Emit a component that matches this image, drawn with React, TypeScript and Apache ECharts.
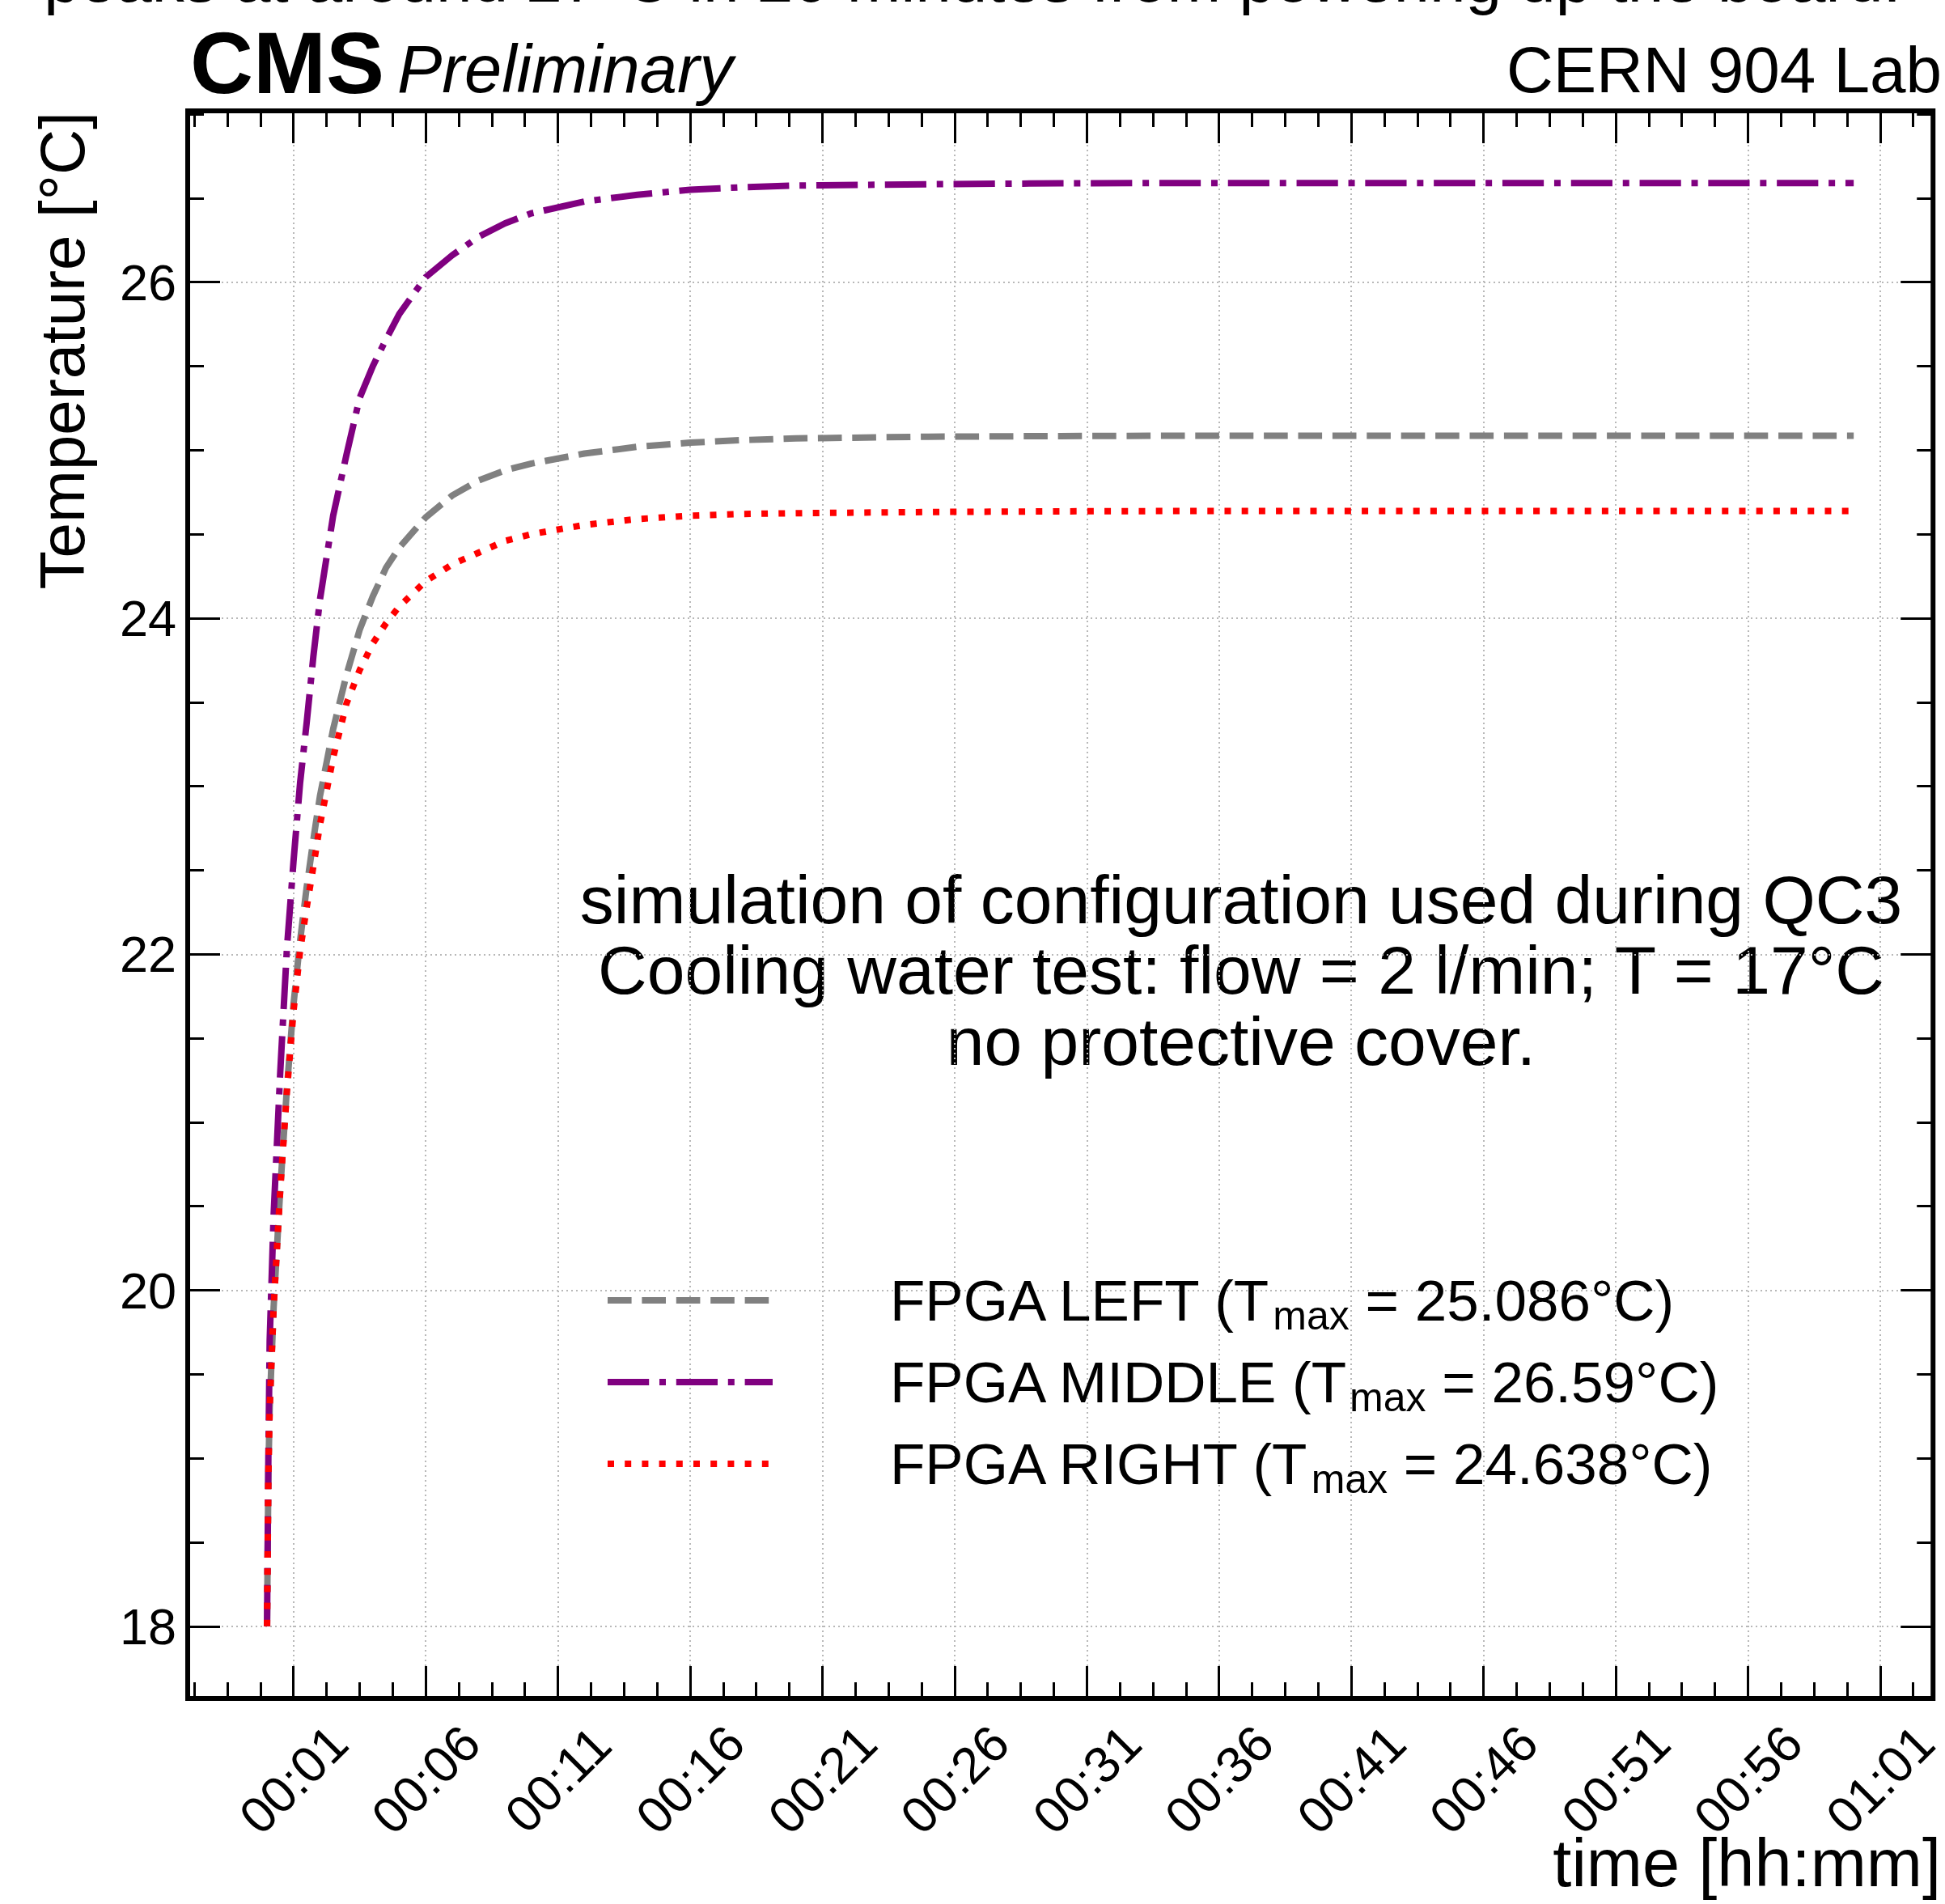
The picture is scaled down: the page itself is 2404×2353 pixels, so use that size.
import React, { useEffect, useRef } from 'react';
import * as echarts from 'echarts';

// ---------------- data ----------------
const timeMin = [0, 0.05, 0.1, 0.25, 0.5, 0.75, 1, 1.25, 1.5, 1.75, 2, 2.5, 3, 3.5, 4, 4.5, 5, 6, 7, 8, 9, 10, 12, 14, 16, 18, 20, 25, 30, 35, 40, 45, 50, 55, 60];
const fpgaLeft = [18.0, 18.9, 19.3, 19.9, 20.6, 21.2, 21.7, 22.08, 22.4, 22.68, 22.94, 23.34, 23.66, 23.93, 24.13, 24.3, 24.42, 24.6, 24.73, 24.82, 24.88, 24.92, 24.98, 25.02, 25.045, 25.06, 25.07, 25.08, 25.084, 25.086, 25.086, 25.086, 25.086, 25.086, 25.086];
const fpgaMiddle = [18.0, 19.0, 19.7, 20.45, 21.3, 22.03, 22.55, 23.02, 23.38, 23.77, 24.11, 24.61, 24.97, 25.31, 25.5, 25.66, 25.81, 26.03, 26.16, 26.27, 26.35, 26.41, 26.48, 26.52, 26.55, 26.565, 26.575, 26.583, 26.588, 26.59, 26.59, 26.59, 26.59, 26.59, 26.59];
const fpgaRight = [18.0, 18.9, 19.3, 19.9, 20.6, 21.18, 21.66, 22.02, 22.28, 22.52, 22.77, 23.17, 23.49, 23.69, 23.85, 23.97, 24.07, 24.22, 24.32, 24.39, 24.46, 24.5, 24.555, 24.59, 24.61, 24.62, 24.625, 24.632, 24.636, 24.638, 24.638, 24.638, 24.638, 24.638, 24.638];

const seriesNames = ['FPGA LEFT', 'FPGA MIDDLE', 'FPGA RIGHT'];
const tMaxLabels = ['25.086', '26.59', '24.638'];
const seriesColors = ['#808080', '#800080', '#ff0000'];

const xMajorTicks = [1, 6, 11, 16, 21, 26, 31, 36, 41, 46, 51, 56, 61];
const xTickLabels = ['00:01', '00:06', '00:11', '00:16', '00:21', '00:26', '00:31', '00:36', '00:41', '00:46', '00:51', '00:56', '01:01'];
const xMinorTicks = [-2.75, -1.5, -0.25, 2.25, 3.5, 4.75, 7.25, 8.5, 9.75, 12.25, 13.5, 14.75, 17.25, 18.5, 19.75, 22.25, 23.5, 24.75, 27.25, 28.5, 29.75, 32.25, 33.5, 34.75, 37.25, 38.5, 39.75, 42.25, 43.5, 44.75, 47.25, 48.5, 49.75, 52.25, 53.5, 54.75, 57.25, 58.5, 59.75, 62.25];
const yMajorTicks = [18, 20, 22, 24, 26];
const yMinorTicks = [18.5, 19, 19.5, 20.5, 21, 21.5, 22.5, 23, 23.5, 24.5, 25, 25.5, 26.5, 27];

const X_MIN = -3;
const X_MAX = 63;
const Y_MIN = 17.5705;
const Y_MAX = 27.0195;

const FONT = 'Liberation Sans';

export default function App() {
  const ref = useRef<HTMLDivElement>(null);

  useEffect(() => {
    if (!ref.current) return;
    const chart = echarts.init(ref.current, undefined, { renderer: 'svg' });

    const tickStyle = { color: '#000', width: 3 };
    const gridLineStyle = { color: '#b8b8b8', width: 2, type: [2, 4] as any };

    const mkX = (position: string, ticks: number[], len: number, labels: boolean, split: boolean) => ({
      type: 'value',
      gridIndex: 0,
      position,
      min: X_MIN,
      max: X_MAX,
      axisLine: { show: false, onZero: false },
      axisTick: { show: true, inside: true, length: len, customValues: ticks, lineStyle: tickStyle },
      axisLabel: labels
        ? {
            show: true,
            customValues: ticks,
            formatter: (v: number) => {
              const i = xMajorTicks.findIndex((m) => Math.abs(m - v) < 1e-6);
              return i >= 0 ? xTickLabels[i] : '';
            },
            rotate: 45,
            align: 'center',
            verticalAlign: 'middle',
            margin: 100,
            fontSize: 63,
            fontFamily: FONT,
            color: '#000',
          }
        : { show: false },
      splitLine: split ? { show: true, lineStyle: gridLineStyle } : { show: false },
    });

    const mkY = (position: string, ticks: number[], len: number, labels: boolean, split: boolean) => ({
      type: 'value',
      gridIndex: 0,
      position,
      min: Y_MIN,
      max: Y_MAX,
      axisLine: { show: false, onZero: false },
      axisTick: { show: true, inside: true, length: len, customValues: ticks, lineStyle: tickStyle },
      axisLabel: labels
        ? {
            show: true,
            customValues: ticks,
            formatter: (v: number) => String(Math.round(v)),
            margin: 14,
            fontSize: 63,
            fontFamily: FONT,
            color: '#000',
          }
        : { show: false },
      splitLine: split ? { show: true, lineStyle: gridLineStyle } : { show: false },
    });

    const seriesData = [fpgaLeft, fpgaMiddle, fpgaRight];
    const dashes = [
      [29.6, 12.8],
      [51.2, 12.8, 8, 12.8],
      [8, 13.2],
    ];

    const option: any = {
      animation: false,
      backgroundColor: '#ffffff',
      grid: {
        left: 232,
        top: 137,
        right: 4,
        bottom: 254,
        show: true,
        borderColor: '#000',
        borderWidth: 6,
        backgroundColor: 'transparent',
        containLabel: false,
      },
      xAxis: [
        mkX('bottom', xMajorTicks, 40, true, true),
        mkX('bottom', xMinorTicks, 20, false, false),
        mkX('top', xMajorTicks, 40, false, false),
        mkX('top', xMinorTicks, 20, false, false),
      ],
      yAxis: [
        mkY('left', yMajorTicks, 40, true, true),
        mkY('left', yMinorTicks, 20, false, false),
        mkY('right', yMajorTicks, 40, false, false),
        mkY('right', yMinorTicks, 20, false, false),
      ],
      legend: {
        orient: 'vertical',
        left: 747,
        top: 1563,
        padding: 0,
        itemWidth: 204,
        itemHeight: 20,
        itemGap: 13,
        selectedMode: false,
        data: seriesNames,
        lineStyle: { width: 8, type: 'inherit' },
        itemStyle: { opacity: 0 },
        formatter: (name: string) => {
          const i = seriesNames.indexOf(name);
          return `{sp| }{n|${name} (T}{s|max}{n| = ${tMaxLabels[i]}°C)}`;
        },
        textStyle: {
          rich: {
            sp: { width: 140, fontSize: 10 },
            n: { fontSize: 71, fontFamily: FONT, lineHeight: 80, color: '#000' },
            s: { fontSize: 50, fontFamily: FONT, lineHeight: 40, padding: [38, 0, 0, 0], color: '#000' },
          },
        },
      },
      series: seriesNames.map((name, k) => ({
        type: 'line',
        name,
        xAxisIndex: 0,
        yAxisIndex: 0,
        data: timeMin.map((t, i) => [t, seriesData[k][i]]),
        symbol: 'none',
        showSymbol: false,
        smooth: false,
        lineStyle: { color: seriesColors[k], width: 8, type: dashes[k], cap: 'butt', join: 'round' },
        itemStyle: { color: seriesColors[k] },
        emphasis: { disabled: true },
        z: 3 + k,
      })),
      graphic: [
        {
          type: 'text',
          x: 1202,
          y: -26,
          style: {
            text: 'peaks at around 27°C in 20 minutes from powering up the board.',
            fontSize: 80,
            fontFamily: FONT,
            fill: '#000',
            align: 'center',
            verticalAlign: 'middle',
          },
        },
        {
          type: 'text',
          x: 235,
          y: 77,
          style: { text: 'CMS', fontSize: 108, fontWeight: 'bold', fontFamily: FONT, fill: '#000', align: 'left', verticalAlign: 'middle' },
        },
        {
          type: 'text',
          x: 491,
          y: 85,
          style: { text: 'Preliminary', fontSize: 83, fontStyle: 'italic', fontFamily: FONT, fill: '#000', align: 'left', verticalAlign: 'middle' },
        },
        {
          type: 'text',
          x: 2400,
          y: 86,
          style: { text: 'CERN 904 Lab', fontSize: 80, fontFamily: FONT, fill: '#000', align: 'right', verticalAlign: 'middle' },
        },
        {
          type: 'text',
          x: 77,
          y: 138,
          rotation: Math.PI / 2,
          style: { text: 'Temperature [°C]', fontSize: 78, fontFamily: FONT, fill: '#000', align: 'right', verticalAlign: 'middle' },
        },
        {
          type: 'text',
          x: 2399,
          y: 2302,
          style: { text: 'time [hh:mm]', fontSize: 83, fontFamily: FONT, fill: '#000', align: 'right', verticalAlign: 'middle' },
        },
        {
          type: 'text',
          x: 1534,
          y: 1199,
          style: {
            text: 'simulation of configuration used during QC3\nCooling water test: flow = 2 l/min; T = 17°C\nno protective cover.',
            fontSize: 84,
            lineHeight: 87.5,
            fontFamily: FONT,
            fill: '#000',
            align: 'center',
            verticalAlign: 'middle',
          },
        },
      ],
    };

    chart.setOption(option);
    return () => {
      chart.dispose();
    };
  }, []);

  return (
    <div
      ref={ref}
      style={{ position: 'absolute', left: 0, top: 0, width: 2404, height: 2353, background: '#fff' }}
    />
  );
}
